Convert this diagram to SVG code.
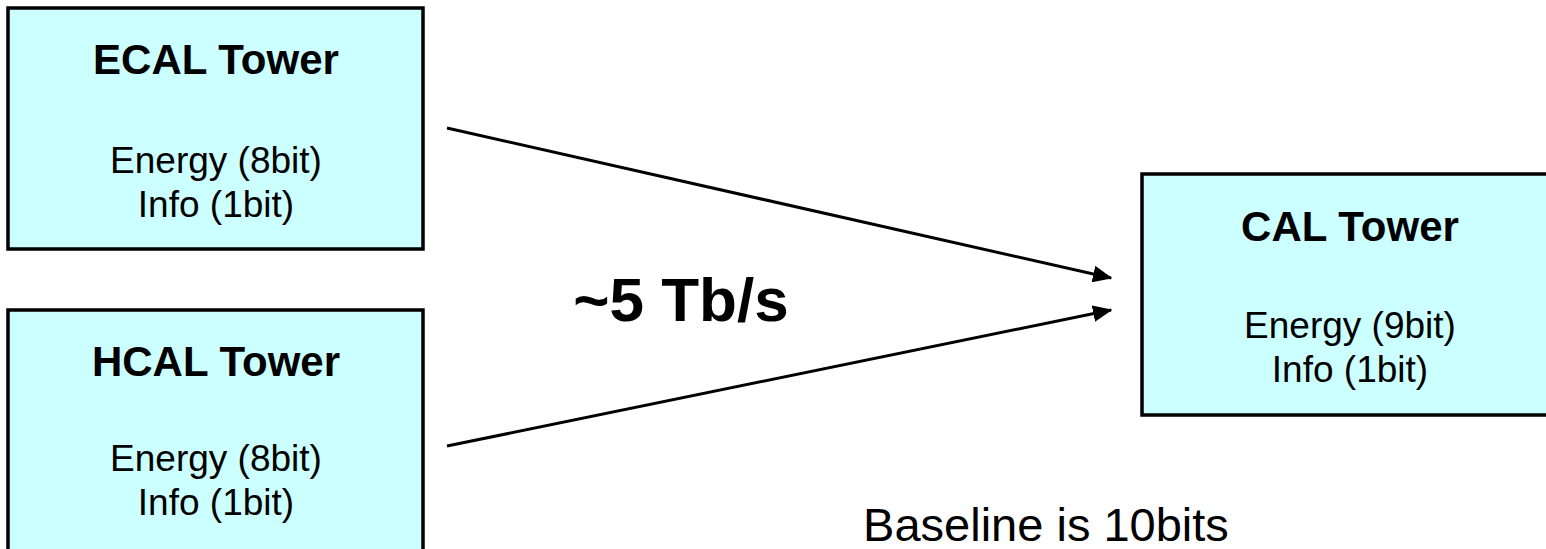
<svg xmlns="http://www.w3.org/2000/svg" width="1546" height="549" viewBox="0 0 1546 549">
  <style>
    .box { fill: #ccffff; stroke: #000; stroke-width: 3.5; }
    .title { font-family: "Liberation Sans", Arial, sans-serif; font-weight: bold; font-size: 42px; text-anchor: middle; fill: #000; }
    .body { font-family: "Liberation Sans", Arial, sans-serif; font-size: 37px; text-anchor: middle; fill: #000; }
    .conn { stroke: #000; stroke-width: 3; fill: none; marker-end: url(#arrow); }
    .note { font-family: "Liberation Sans", Arial, sans-serif; fill: #000; }
  </style>
  <defs>
    <marker id="arrow" markerWidth="6.5" markerHeight="5.6" refX="6" refY="2.8" orient="auto" markerUnits="strokeWidth">
      <path d="M0,0 L6.5,2.8 L0,5.6 Z" fill="#000"/>
    </marker>
  </defs>
  <rect width="1546" height="549" fill="#fff"/>

  <g id="ecal">
    <rect class="box" x="8" y="8" width="415" height="241"/>
    <text class="title" x="216" y="74">ECAL Tower</text>
    <text class="body" x="216" y="173">Energy (8bit)</text>
    <text class="body" x="216" y="217">Info (1bit)</text>
  </g>

  <g id="hcal">
    <rect class="box" x="8" y="310" width="415" height="260"/>
    <text class="title" x="216" y="376">HCAL Tower</text>
    <text class="body" x="216" y="471">Energy (8bit)</text>
    <text class="body" x="216" y="515">Info (1bit)</text>
  </g>

  <g id="cal">
    <rect class="box" x="1142" y="174" width="420" height="241"/>
    <text class="title" x="1350" y="241">CAL Tower</text>
    <text class="body" x="1350" y="338">Energy (9bit)</text>
    <text class="body" x="1350" y="382">Info (1bit)</text>
  </g>

  <g id="connectors">
    <line class="conn" x1="447" y1="128" x2="1111" y2="278"/>
    <line class="conn" x1="447" y1="446" x2="1111" y2="310"/>
  </g>

  <text class="note" x="681" y="321" font-size="62" font-weight="bold" text-anchor="middle">~5 Tb/s</text>
  <text class="note" x="1046" y="541" font-size="47" text-anchor="middle">Baseline is 10bits</text>
</svg>
